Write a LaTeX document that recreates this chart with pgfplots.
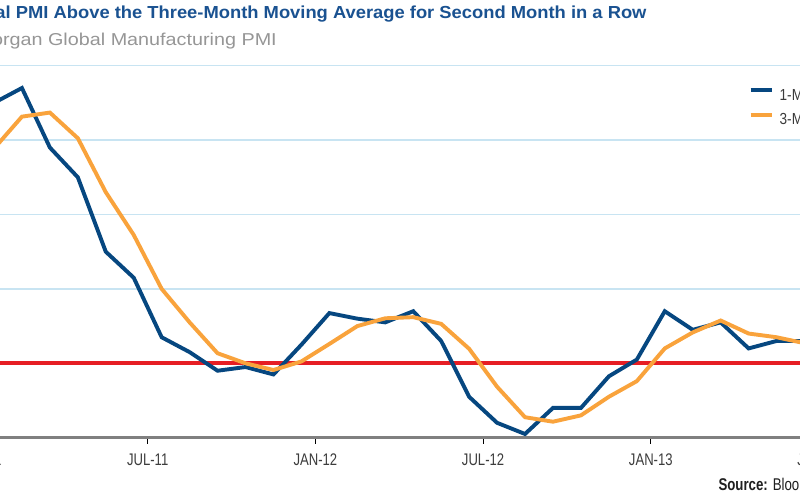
\documentclass[border=0pt]{standalone}
\usepackage{fontspec}
\setmainfont{Liberation Sans}
\newfontfamily\cond[FakeStretch=0.78]{Liberation Sans}
\newfontfamily\legfont[FakeStretch=0.85]{Liberation Sans}
\newfontfamily\titlefont[FakeStretch=1.055]{Liberation Sans}
\newfontfamily\subfont[FakeStretch=1.15]{Liberation Sans}
\usepackage{pgfplots}
\usepackage{pgfplotstable}
\pgfplotsset{compat=1.18}
\definecolor{titleblue}{RGB}{26,82,145}
\definecolor{subgray}{RGB}{150,150,150}
\definecolor{pmiblue}{RGB}{6,71,128}
\definecolor{pmiorange}{RGB}{249,163,60}
\definecolor{pmired}{RGB}{230,30,36}
\definecolor{gridblue}{RGB}{200,228,242}
\definecolor{axisgray}{RGB}{128,128,128}
\definecolor{labelgray}{RGB}{60,60,60}

\pgfplotstableread{
x    one    three
0.5  57.0   55.77
1.5  57.4   56.63
2.5  55.8   56.74
3.5  55.0   56.05
4.5  53.0   54.60
5.5  52.3   53.45
6.5  50.7   52.00
7.5  50.3   51.10
8.5  49.8   50.27
9.5  49.9   50.00
10.5 49.7   49.82
11.5 50.5   50.05
12.5 51.35  50.52
13.5 51.2   51.00
14.5 51.1   51.21
15.5 51.4   51.24
16.5 50.6   51.06
17.5 49.1   50.39
18.5 48.4   49.37
19.5 48.1   48.55
20.5 48.8   48.43
21.5 48.8   48.60
22.5 49.65  49.10
23.5 50.1   49.52
24.5 51.4   50.40
25.5 50.9   50.83
26.5 51.1   51.15
27.5 50.4   50.80
28.5 50.6   50.70
29.5 50.6   50.54
}\pmidata

\begin{document}
\begin{tikzpicture}[x=1pt,y=1pt]
\useasboundingbox (0,0) rectangle (800,500);
\clip (0,0) rectangle (800,500);
\fill[white] (0,0) rectangle (800,500);
\begin{axis}[
  at={(-47.95pt,62.3pt)}, anchor=south west,
  scale only axis, width=894.4pt, height=372pt,
  xmin=-1, xmax=31, ymin=48, ymax=58,
  axis x line*=bottom, axis y line*=left,
  x axis line style={-, draw=axisgray, line width=2.5pt},
  y axis line style={draw=none},
  xtick={0,6,12,18,24,30},
  xticklabels={JAN-11,JUL-11,JAN-12,JUL-12,JAN-13,JUL-13},
  xtick align=outside,
  major tick length=6pt,
  x tick style={black, line width=0.9pt},
  xticklabel style={font=\cond\fontsize{16.8pt}{18pt}\selectfont, text=labelgray, yshift=-7pt},
  ytick={48,50,...,58},
  yticklabels={},
  y tick style={draw=none},
  ymajorgrids,
  major grid style={gridblue, line width=1.6pt},
  legend style={draw=none, fill=none, at={(axis description cs:0.8908,0.9390)}, anchor=north west,
    inner sep=0pt, outer sep=0pt, row sep=13pt, column sep=6pt,
    nodes={inner sep=0pt, text height=11pt, text depth=0pt},
    font=\legfont\fontsize{16pt}{16pt}\selectfont, text=labelgray},
  legend cell align=left,
  legend image code/.code={\draw[#1] (0pt,4.3pt) -- (21pt,4.3pt);},
]
\addplot[pmired, line width=4.2pt, forget plot] coordinates {(-1,50) (31,50)};
\addplot[pmiblue, line width=3.9pt] table[x=x,y=one]{\pmidata};
\addlegendentry{1-Month}
\addplot[pmiorange, line width=3.9pt] table[x=x,y=three]{\pmidata};
\addlegendentry{3-Month Moving Average}
\end{axis}
\node[anchor=base east, inner sep=0pt, text=titleblue, font=\titlefont\bfseries\fontsize{17.4pt}{20pt}\selectfont] at (646.7,481) {Global PMI Above the Three-Month Moving Average for Second Month in a Row};
\node[anchor=base east, inner sep=0pt, text=subgray, font=\subfont\fontsize{17.2pt}{20pt}\selectfont] at (277,454) {JPMorgan Global Manufacturing PMI};
\node[anchor=base west, inner sep=0pt, text=black!88, font=\cond\fontsize{17pt}{20pt}\selectfont] at (718.3,9) {\textbf{Source:} Bloomberg};
\end{tikzpicture}
\end{document}
